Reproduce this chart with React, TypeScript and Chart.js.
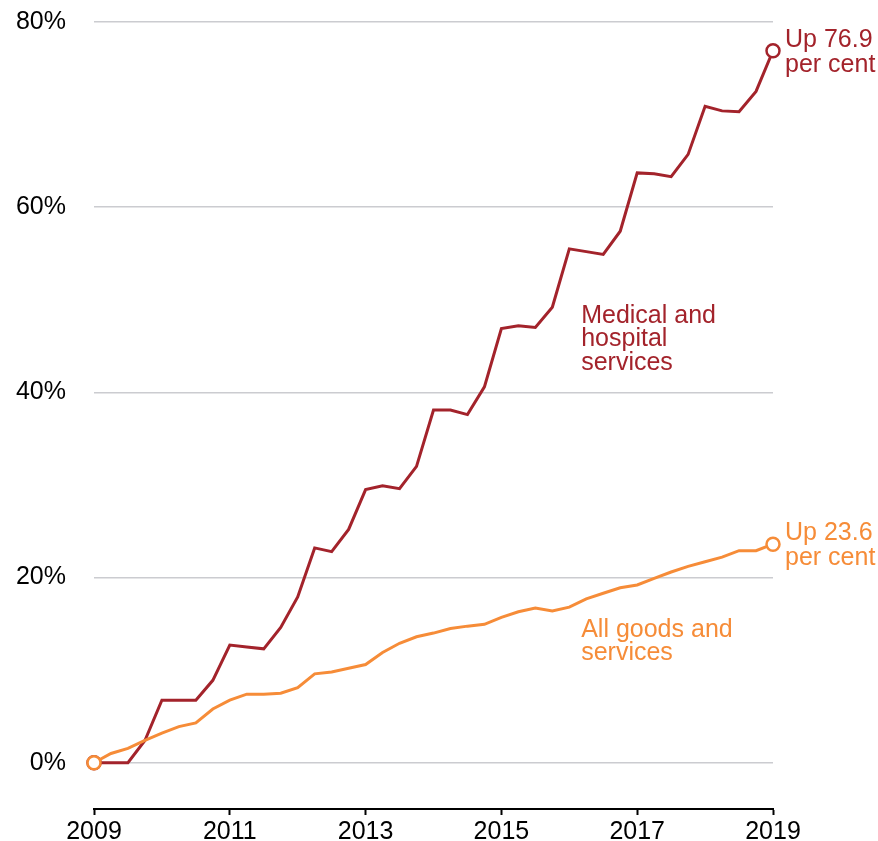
import React, { useEffect, useRef } from "react";
import { Chart, registerables } from "chart.js";

Chart.register(...registerables);

const quarters = [
  "2009 Q1", "2009 Q2", "2009 Q3", "2009 Q4",
  "2010 Q1", "2010 Q2", "2010 Q3", "2010 Q4",
  "2011 Q1", "2011 Q2", "2011 Q3", "2011 Q4",
  "2012 Q1", "2012 Q2", "2012 Q3", "2012 Q4",
  "2013 Q1", "2013 Q2", "2013 Q3", "2013 Q4",
  "2014 Q1", "2014 Q2", "2014 Q3", "2014 Q4",
  "2015 Q1", "2015 Q2", "2015 Q3", "2015 Q4",
  "2016 Q1", "2016 Q2", "2016 Q3", "2016 Q4",
  "2017 Q1", "2017 Q2", "2017 Q3", "2017 Q4",
  "2018 Q1", "2018 Q2", "2018 Q3", "2018 Q4",
  "2019 Q1",
];

const medicalHospital = [
  0, 0, 0, 2.4, 6.75, 6.75, 6.75, 8.9,
  12.7, 12.5, 12.3, 14.6, 17.9, 23.2, 22.8, 25.2,
  29.5, 29.9, 29.6, 32.0, 38.1, 38.1, 37.6, 40.6,
  46.9, 47.2, 47.0, 49.2, 55.5, 55.2, 54.9, 57.4,
  63.7, 63.6, 63.3, 65.7, 70.9, 70.4, 70.3, 72.5,
  76.9,
];

const allGoods = [
  0, 1.0, 1.55, 2.4, 3.2, 3.9, 4.3, 5.8,
  6.75, 7.4, 7.4, 7.5, 8.1, 9.6, 9.8, 10.2,
  10.6, 11.9, 12.9, 13.6, 14.0, 14.5, 14.75, 14.95,
  15.7, 16.3, 16.7, 16.4, 16.8, 17.7, 18.3, 18.9,
  19.2, 19.9, 20.6, 21.2, 21.7, 22.2, 22.9, 22.9,
  23.6,
];

const yTickValues = [0, 20, 40, 60, 80];
const xTickYears = ["2009", "2011", "2013", "2015", "2017", "2019"];

const medicalName = ["Medical and", "hospital", "services"];
const allGoodsName = ["All goods and", "services"];
const medicalEnd = ["Up 76.9", "per cent"];
const allGoodsEnd = ["Up 23.6", "per cent"];

const RED = "#a3232b";
const ORANGE = "#f68c38";
const FONT = '"Liberation Sans", Arial, Helvetica, sans-serif';

function showLabel(index: number): string {
  const lab = quarters[index] || "";
  const [yr, q] = lab.split(" ");
  return q === "Q1" && xTickYears.includes(yr) ? yr : "";
}

const annotationPlugin = {
  id: "annotations",
  afterDraw(chart: any) {
    const { ctx, scales } = chart;
    const xs = scales.x;
    const ys = scales.y;

    const drawLines = (lines: string[], x: number, y: number, gap: number, color: string) => {
      ctx.save();
      ctx.font = `25px ${FONT}`;
      ctx.textAlign = "left";
      ctx.textBaseline = "alphabetic";
      ctx.fillStyle = color;
      lines.forEach((t, i) => ctx.fillText(t, x, y + i * gap));
      ctx.restore();
    };

    // series names, anchored in data space
    drawLines(medicalName, xs.getPixelForValue(28.7), ys.getPixelForValue(47.5), 23.5, RED);
    drawLines(allGoodsName, xs.getPixelForValue(28.7), ys.getPixelForValue(13.6), 23.5, ORANGE);

    // end labels next to last points
    const last = quarters.length - 1;
    const xe = xs.getPixelForValue(last) + 12;
    drawLines(medicalEnd, xe, ys.getPixelForValue(medicalHospital[last]) - 4, 25.5, RED);
    drawLines(allGoodsEnd, xe, ys.getPixelForValue(allGoods[last]) - 4.5, 25.5, ORANGE);
  },
};

export default function App() {
  const ref = useRef<HTMLCanvasElement | null>(null);

  useEffect(() => {
    if (!ref.current) return;
    const endpointRadius = (ctx: any) => {
      const i = ctx.dataIndex;
      return i === 0 || i === quarters.length - 1 ? 6.5 : 0;
    };
    const chart = new Chart(ref.current, {
      type: "line",
      data: {
        labels: quarters,
        datasets: [
          {
            label: "All goods and services",
            data: allGoods,
            borderColor: ORANGE,
            borderWidth: 3,
            pointRadius: endpointRadius,
            pointHoverRadius: endpointRadius,
            pointBackgroundColor: "#ffffff",
            pointBorderColor: ORANGE,
            pointBorderWidth: 2.5,
            tension: 0,
            clip: false as any,
          },
          {
            label: "Medical and hospital services",
            data: medicalHospital,
            borderColor: RED,
            borderWidth: 3,
            pointRadius: endpointRadius,
            pointHoverRadius: endpointRadius,
            pointBackgroundColor: "#ffffff",
            pointBorderColor: RED,
            pointBorderWidth: 2.5,
            tension: 0,
            clip: false as any,
          },
        ],
      },
      options: {
        animation: false,
        responsive: false,
        maintainAspectRatio: false,
        layout: { padding: { top: 22, right: 105, left: 0, bottom: 0 } },
        plugins: {
          legend: { display: false },
          tooltip: { enabled: false },
          title: { display: false },
        },
        scales: {
          x: {
            type: "category",
            offset: false,
            grid: {
              display: true,
              drawOnChartArea: false,
              drawTicks: true,
              tickLength: 6,
              tickWidth: 2,
              tickColor: (c: any) => (showLabel(c.index) ? "#000000" : "rgba(0,0,0,0)"),
            },
            border: { display: true, color: "#000000", width: 2 },
            ticks: {
              autoSkip: false,
              maxRotation: 0,
              minRotation: 0,
              padding: 2,
              color: "#000000",
              font: { family: FONT, size: 25 },
              callback: (_v: any, index: number) => showLabel(index),
            },
            afterFit: (scale: any) => {
              scale.height = 32;
            },
          },
          y: {
            type: "linear",
            min: -5,
            max: 80,
            grid: {
              color: "#cbccd0",
              lineWidth: 1.5,
              drawTicks: false,
            },
            border: { display: false },
            ticks: {
              padding: 28,
              color: "#000000",
              font: { family: FONT, size: 25 },
              callback: (v: any) => `${v}%`,
            },
            afterBuildTicks: (scale: any) => {
              scale.ticks = yTickValues.map((v) => ({ value: v }));
            },
            afterFit: (scale: any) => {
              scale.width = 94;
              scale.paddingTop = 0;
              scale.paddingBottom = 0;
            },
          },
        },
      },
      plugins: [annotationPlugin],
    });
    return () => chart.destroy();
  }, []);

  return (
    <div style={{ position: "absolute", left: 0, top: 0, width: 878, height: 841, background: "#ffffff" }}>
      <canvas ref={ref} width={878} height={841} style={{ display: "block", width: 878, height: 841 }} />
    </div>
  );
}
